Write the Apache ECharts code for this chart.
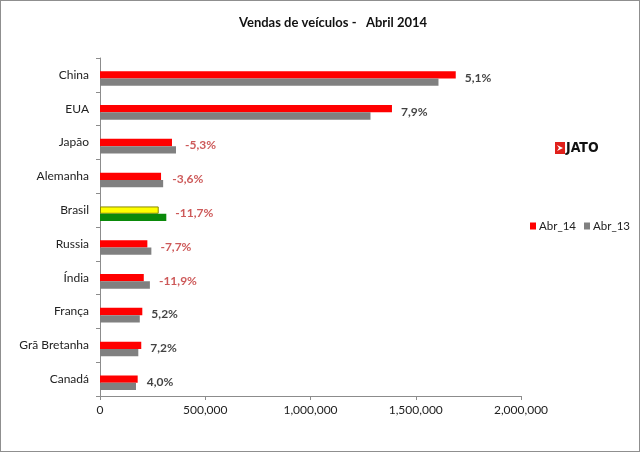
<!DOCTYPE html>
<html>
<head>
<meta charset="utf-8">
<script src="https://cdn.jsdelivr.net/npm/echarts@6/dist/echarts.min.js"></script>
<style>
html,body{margin:0;padding:0;background:#fff;}
#chart{width:640px;height:452px;box-sizing:border-box;border:1px solid #8f8f8f;}
</style>
</head>
<body>
<div id="chart"></div>
<script>
var countries = ['China','EUA','Japão','Alemanha','Brasil','Russia','Índia','França','Grã Bretanha','Canadá'];
var abr14 = [1690000,1387000,342000,290000,279000,225000,208000,201000,196000,179000];
var abr13 = [1608000,1285000,361000,300000,315000,244000,237000,189000,182000,171000];
var pctLabels = ['5,1%','7,9%','-5,3%','-3,6%','-11,7%','-7,7%','-11,9%','5,2%','7,2%','4,0%'];
var xTicks = [0,500000,1000000,1500000,2000000];
var highlight = 'Brasil';

var FONT = 'Lato, "Open Sans", sans-serif';
var chart = echarts.init(document.getElementById('chart'));

var s14 = abr14.map(function(v,i){
  if (countries[i] === highlight) return {value:v, itemStyle:{color:'#FFFF00', borderColor:'#8a8a00', borderWidth:1}};
  return v;
});
var s13 = abr13.map(function(v,i){
  if (countries[i] === highlight) return {value:v, itemStyle:{color:'#0A8A0A'}};
  return v;
});
var labelPts = countries.map(function(c,i){
  var neg = pctLabels[i].charAt(0) === '-';
  return {value:[Math.max(abr14[i],abr13[i]), c], label:{color: neg ? '#C0302F' : '#111'}};
});
var emptySlot = countries.map(function(){ return null; });

chart.setOption({
  animation:false,
  textStyle:{fontFamily:FONT},
  title:{text:'Vendas de veículos -   Abril 2014', left:327, textAlign:'center', top:10,
    textStyle:{fontSize:13, fontWeight:'bold', color:'#111', fontFamily:FONT}},
  legend:{data:['Abr_14','Abr_13'], orient:'horizontal', left:529, top:219, padding:0, icon:'rect',
    itemWidth:6, itemHeight:7, itemGap:8, width:112,
    textStyle:{fontSize:11.5, color:'#222', fontFamily:FONT, padding:[0,0,0,-2]}},
  grid:{left:99, right:118, top:57, bottom:55, containLabel:false},
  xAxis:{type:'value', min:0, max:2000000, interval:500000,
    axisLine:{show:true, lineStyle:{color:'#8c8c8c'}},
    axisTick:{show:true, length:4, lineStyle:{color:'#8c8c8c'}},
    splitLine:{show:false},
    axisLabel:{fontSize:12, color:'#222', margin:8, fontFamily:FONT,
      formatter:function(v){ return v.toLocaleString('en-US'); }}
  },
  yAxis:{type:'category', data:countries, inverse:true,
    axisLine:{show:true, lineStyle:{color:'#8c8c8c'}},
    axisTick:{show:true, length:4, lineStyle:{color:'#8c8c8c'}},
    axisLabel:{fontSize:12, color:'#222', margin:11, fontFamily:FONT}
  },
  series:[
    {name:'slot', type:'bar', data:emptySlot, barWidth:7.3, barGap:'0%', silent:true, itemStyle:{color:'transparent'}},
    {name:'Abr_14', type:'bar', data:s14, barWidth:7.3, barGap:'0%', itemStyle:{color:'#FF0000'}},
    {name:'Abr_13', type:'bar', data:s13, barWidth:7.3, barGap:'0%', itemStyle:{color:'#808080'}},
    {name:'pct', type:'scatter', data:labelPts, symbolSize:0.1, silent:true,
      label:{show:true, position:'right', distance:9, offset:[0,3], fontSize:12, fontWeight:'bold', fontFamily:FONT,
        formatter:function(p){ return pctLabels[p.dataIndex]; }}}
  ],
  graphic:[
    {type:'group', left:554, top:140, children:[
      {type:'rect', shape:{x:0,y:0,width:10,height:12}, style:{fill:'#E0201B'}},
      {type:'polygon', shape:{points:[[2,3],[8,6],[2,9],[4,6]]}, style:{fill:'#fff'}},
      {type:'text', x:11, y:-1, style:{text:'JATO', fontSize:14, fontWeight:'bold', fill:'#111',
        fontFamily:'"Liberation Sans Narrow","DejaVu Sans Condensed",sans-serif'}}
    ]}
  ]
});
</script>
</body>
</html>
